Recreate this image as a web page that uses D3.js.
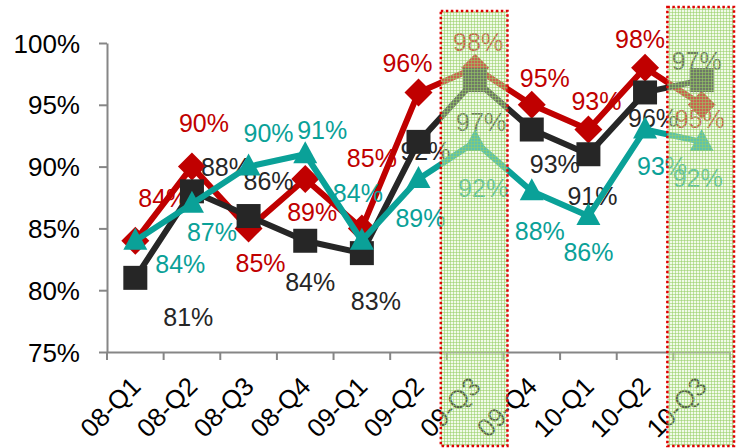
<!DOCTYPE html>
<html><head><meta charset="utf-8">
<script src="https://cdn.jsdelivr.net/npm/d3@7"></script>
<style>
html,body{margin:0;padding:0;background:#fff;}
text{font-family:"Liberation Sans",Arial,sans-serif;}
</style></head>
<body>
<svg id="chart" width="736" height="448"></svg>
<script>
// ---- data ----
const categories = ["08-Q1","08-Q2","08-Q3","08-Q4","09-Q1","09-Q2","09-Q3","09-Q4","10-Q1","10-Q2","10-Q3"];
const redValues   = [84, 90, 85, 89, 85, 96, 98, 95, 93, 98, 95];
const blackValues = [81, 88, 86, 84, 83, 92, 97, 93, 91, 96, 97];
const tealValues  = [84, 87, 90, 91, 84, 89, 92, 88, 86, 93, 92];
const yTicks = [75, 80, 85, 90, 95, 100];
const highlighted = ["09-Q3", "10-Q3"];

// ---- layout (label offsets relative to the point) ----
const redLabelOffsets   = [[28,-43],[12,-44],[12,35],[7,33],[10,-70],[-11,-29],[3,-26],[13,-27],[8,-29],[-5,-29],[-2,14]];
const blackLabelOffsets = [[53,39],[34,-24],[20,-35],[5,41],[14,48],[7,9],[6,42],[23,34],[4,42],[8,26],[-5,-19]];
const tealLabelOffsets  = [[45,23],[20,28],[20,-34],[17,-24],[-4,-48],[2,39],[8,46],[8,40],[0,36],[17,36],[-4,36]];
const boxTops = [11, 7];

const svg = d3.select("#chart");
const mLeft = 107, mRight = 730, mTop = 43, mBottom = 352;

const x = d3.scaleBand().domain(categories).range([mLeft, mRight]);
const y = d3.scaleLinear().domain([75, 100]).range([mBottom, mTop]);
const cx = c => x(c) + x.bandwidth() / 2;

const axisColor = "#868686";

// y axis
const yAxis = svg.append("g").attr("transform", `translate(${mLeft},0)`)
  .call(d3.axisLeft(y).tickValues(yTicks).tickFormat(d => d + "%").tickSize(8).tickSizeOuter(0));
yAxis.select(".domain").attr("stroke", axisColor).attr("stroke-width", 2);
yAxis.selectAll(".tick line").attr("stroke", axisColor).attr("stroke-width", 2);
yAxis.selectAll(".tick text").attr("font-size", 26).attr("fill", "#000")
  .attr("x", -27).attr("dy", "0.35em").style("font-family", "'Liberation Sans', Arial, sans-serif");

// x axis
const xAxis = svg.append("g").attr("transform", `translate(0,${mBottom})`)
  .call(d3.axisBottom(x).tickSize(0).tickSizeOuter(0));
xAxis.select(".domain").attr("stroke", axisColor).attr("stroke-width", 2);
xAxis.selectAll(".tick line").remove();
const bounds = categories.map(c => x(c)).concat([x(categories[categories.length - 1]) + x.bandwidth()]);
xAxis.selectAll(".bnd").data(bounds).join("line").attr("class", "bnd")
  .attr("x1", d => d).attr("x2", d => d).attr("y1", 0).attr("y2", 8)
  .attr("stroke", axisColor).attr("stroke-width", 2);
xAxis.selectAll(".tick text")
  .attr("font-size", 26).attr("fill", "#000")
  .attr("text-anchor", "end")
  .attr("dy", 0).attr("y", 0)
  .attr("transform", "translate(7,36) rotate(-45)")
  .style("font-family", "'Liberation Sans', Arial, sans-serif");

// series
const series = [
  {vals: redValues, color: "#C00000", shape: "diamond", offs: redLabelOffsets},
  {vals: blackValues, color: "#262626", shape: "square", offs: blackLabelOffsets},
  {vals: tealValues, color: "#0AA198", shape: "triangle", offs: tealLabelOffsets}
];

const line = d3.line().x((d, i) => cx(categories[i])).y(d => y(d));

function markerPath(shape) {
  if (shape === "diamond") return "M0,-14L14,0L0,14L-14,0Z";
  if (shape === "square") return "M-12,-12H12V12H-12Z";
  return "M0,-13L12,9H-12Z";
}

series.forEach(s => {
  const g = svg.append("g");
  g.append("path").datum(s.vals).attr("d", line)
    .attr("fill", "none").attr("stroke", s.color).attr("stroke-width", 6)
    .attr("stroke-linejoin", "round");
  g.selectAll(".m").data(s.vals).join("path").attr("class", "m")
    .attr("transform", (d, i) => `translate(${cx(categories[i])},${y(d)})`)
    .attr("d", markerPath(s.shape)).attr("fill", s.color);
  g.selectAll(".lbl").data(s.vals).join("text").attr("class", "lbl")
    .attr("x", (d, i) => cx(categories[i]) + s.offs[i][0])
    .attr("y", (d, i) => y(d) + s.offs[i][1])
    .attr("text-anchor", "middle").attr("dy", "0.36em")
    .attr("font-size", 25).attr("fill", s.color)
    .text(d => d + "%");
});

// highlight boxes
const defs = svg.append("defs");
const pat = defs.append("pattern").attr("id", "grid").attr("patternUnits", "userSpaceOnUse")
  .attr("width", 3).attr("height", 3);
pat.append("rect").attr("width", 3).attr("height", 3).attr("fill", "rgba(220,242,200,0.4)");
pat.append("rect").attr("x", 0).attr("y", 0).attr("width", 3).attr("height", 1).attr("fill", "rgba(150,205,100,0.55)");
pat.append("rect").attr("x", 0).attr("y", 0).attr("width", 1).attr("height", 3).attr("fill", "rgba(150,205,100,0.55)");

svg.selectAll(".hl").data(highlighted).join("rect").attr("class", "hl")
  .attr("x", d => x(d) - 6)
  .attr("y", (d, i) => boxTops[i])
  .attr("width", x.bandwidth() + 10)
  .attr("height", (d, i) => 446 - boxTops[i])
  .attr("fill", "url(#grid)")
  .attr("stroke", "#E00000").attr("stroke-width", 2.5)
  .attr("stroke-dasharray", "2.5,2.5");
</script>
</body></html>
